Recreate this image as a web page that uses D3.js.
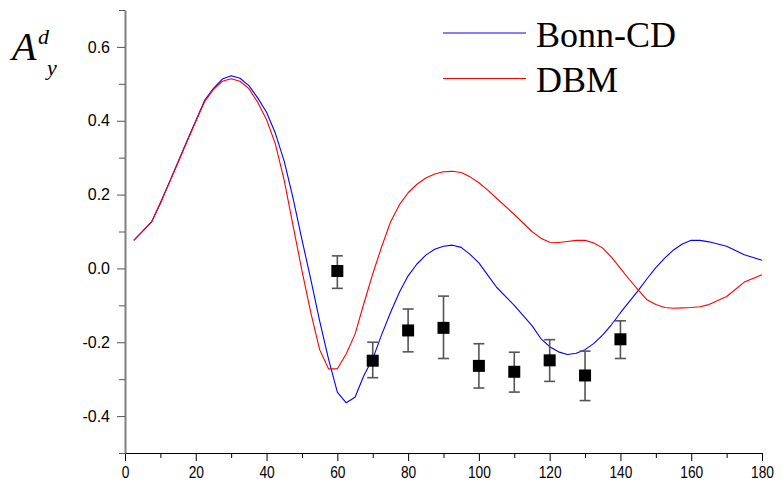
<!DOCTYPE html>
<html>
<head>
<meta charset="utf-8">
<script src="https://cdn.jsdelivr.net/npm/d3@7"></script>
<style>
  body { margin: 0; background: #fff; }
  svg { display: block; }
  .tick text { font-family: "Liberation Sans", Arial, sans-serif; font-size: 16px; fill: #000; }
</style>
</head>
<body>
<div id="chart"></div>
<script>
// theta (deg) grid shared by the two model curves
const angles = [2.5, 7.5, 10, 12.5, 15, 17.5, 20, 22.5, 25, 27.5, 30, 32.5, 35, 37.5, 40, 42.5, 45, 47.5, 50,
  52.5, 55, 57.5, 60, 62.5, 65, 67.5, 70, 72.5, 75, 77.5, 80, 82.5, 85, 87.5, 90, 92.5, 95, 97.5, 100, 102.5,
  105, 110, 115, 117.5, 120, 122.5, 125, 127.5, 130, 132.5, 135, 137.5, 140, 142.5, 145, 147.5, 150, 152.5,
  155, 157.5, 160, 162.5, 165, 170, 175, 180];
const bonnCD = [0.076, 0.126, 0.178, 0.233, 0.289, 0.345, 0.400, 0.455, 0.488, 0.513, 0.522, 0.515, 0.495, 0.462,
  0.423, 0.366, 0.290, 0.190, 0.078, -0.030, -0.142, -0.245, -0.335, -0.364, -0.349, -0.290, -0.245, -0.180,
  -0.120, -0.065, -0.020, 0.012, 0.036, 0.052, 0.060, 0.063, 0.057, 0.038, 0.015, -0.018, -0.051, -0.100,
  -0.155, -0.190, -0.212, -0.226, -0.233, -0.230, -0.220, -0.203, -0.180, -0.152, -0.120, -0.090, -0.060,
  -0.028, 0.002, 0.028, 0.050, 0.066, 0.076, 0.076, 0.072, 0.060, 0.037, 0.022];
const dbm = [0.076, 0.126, 0.176, 0.231, 0.287, 0.343, 0.398, 0.452, 0.485, 0.507, 0.514, 0.507, 0.487, 0.450,
  0.403, 0.337, 0.238, 0.115, -0.006, -0.120, -0.220, -0.272, -0.272, -0.232, -0.178, -0.095, -0.015, 0.058,
  0.125, 0.172, 0.205, 0.228, 0.245, 0.256, 0.262, 0.263, 0.260, 0.248, 0.232, 0.212, 0.190, 0.146, 0.100,
  0.082, 0.071, 0.070, 0.073, 0.076, 0.076, 0.069, 0.055, 0.030, 0.000, -0.030, -0.058, -0.085, -0.098,
  -0.106, -0.108, -0.107, -0.106, -0.104, -0.098, -0.076, -0.037, -0.017];

// experimental points
const expAngles = [60, 70, 80, 90, 100, 110, 120, 130, 140];
const expValues = [-0.007, -0.250, -0.168, -0.161, -0.264, -0.280, -0.249, -0.290, -0.192];
const expHigh = [0.034, -0.200, -0.110, -0.075, -0.204, -0.227, -0.193, -0.224, -0.142];
const expLow = [-0.054, -0.296, -0.226, -0.244, -0.324, -0.335, -0.306, -0.358, -0.244];

const xMajor = [0, 20, 40, 60, 80, 100, 120, 140, 160, 180];
const xMinor = [10, 30, 50, 70, 90, 110, 130, 150, 170];
const yMajor = [-0.4, -0.2, 0.0, 0.2, 0.4, 0.6];
const yMinor = [-0.5, -0.3, -0.1, 0.1, 0.3, 0.5, 0.7];

const seriesNames = ["Bonn-CD", "DBM"];
const seriesColors = ["#0000ff", "#ff0000"];

const W = 782, H = 491;
const margin = {top: 10, right: 20, bottom: 38, left: 125};

const svg = d3.select("#chart").append("svg")
  .attr("width", W).attr("height", H);

const x = d3.scaleLinear().domain([0, 180]).range([margin.left, W - margin.right]);
const y = d3.scaleLinear().domain([-0.5, 0.7]).range([H - margin.bottom, margin.top]);

// x axis
const xAxis = svg.append("g").attr("transform", `translate(0,${H - margin.bottom})`)
  .call(d3.axisBottom(x).tickValues(xMajor).tickSize(8).tickSizeOuter(0).tickPadding(6).tickFormat(d3.format("d")));
xAxis.select(".domain").attr("stroke", "#000");
// labels are a bit condensed in the original
xAxis.selectAll(".tick text").attr("transform", "scale(0.86,1)");
svg.append("g").attr("transform", `translate(0,${H - margin.bottom})`)
  .call(d3.axisBottom(x).tickValues(xMinor).tickSize(5).tickFormat(""))
  .select(".domain").remove();

// y axis
const yAxis = svg.append("g").attr("transform", `translate(${margin.left},0)`)
  .call(d3.axisLeft(y).tickValues(yMajor).tickSize(8).tickSizeOuter(0).tickPadding(7).tickFormat(d => d.toFixed(1)));
yAxis.select(".domain").attr("stroke", "#808080").attr("stroke-width", 2);
yAxis.selectAll(".tick line").attr("stroke", "#555");
svg.append("g").attr("transform", `translate(${margin.left},0)`)
  .call(d3.axisLeft(y).tickValues(yMinor).tickSize(6).tickFormat(""))
  .call(g => g.select(".domain").remove())
  .selectAll(".tick line").attr("stroke", "#555");

// model curves
const line = d3.line().x(d => x(d[0])).y(d => y(d[1]));
[bonnCD, dbm].forEach((vals, i) => {
  svg.append("path")
    .datum(angles.map((a, j) => [a, vals[j]]))
    .attr("fill", "none")
    .attr("stroke", seriesColors[i])
    .attr("stroke-width", 1.1)
    .attr("stroke-linejoin", "round")
    .attr("d", line);
});

// error bars + squares
const pts = expAngles.map((a, i) => ({a, v: expValues[i], hi: expHigh[i], lo: expLow[i]}));
const eb = svg.append("g").attr("stroke", "#555").attr("stroke-width", 1.6);
eb.selectAll(".vbar").data(pts).join("line")
  .attr("x1", d => x(d.a)).attr("x2", d => x(d.a))
  .attr("y1", d => y(d.hi)).attr("y2", d => y(d.lo));
eb.selectAll(".capT").data(pts).join("line")
  .attr("x1", d => x(d.a) - 5.5).attr("x2", d => x(d.a) + 5.5)
  .attr("y1", d => y(d.hi)).attr("y2", d => y(d.hi));
eb.selectAll(".capB").data(pts).join("line")
  .attr("x1", d => x(d.a) - 5.5).attr("x2", d => x(d.a) + 5.5)
  .attr("y1", d => y(d.lo)).attr("y2", d => y(d.lo));
svg.append("g").selectAll("rect").data(pts).join("rect")
  .attr("x", d => x(d.a) - 6).attr("y", d => y(d.v) - 6)
  .attr("width", 12).attr("height", 12)
  .attr("fill", "#000");

// legend
const legend = svg.append("g");
seriesNames.forEach((name, i) => {
  const ly = 33 + i * 45.5;
  legend.append("line")
    .attr("x1", 443).attr("x2", 526).attr("y1", ly).attr("y2", ly)
    .attr("stroke", seriesColors[i]).attr("stroke-width", 1.1);
  legend.append("text")
    .attr("x", 536).attr("y", ly + 13.5)
    .attr("font-family", "'Liberation Serif', 'Times New Roman', serif")
    .attr("font-size", 36)
    .text(name);
});

// y label A_y^d
const ylab = svg.append("text")
  .attr("font-family", "'Liberation Serif', 'Times New Roman', serif")
  .attr("font-style", "italic");
ylab.append("tspan").attr("x", 12).attr("y", 60).attr("font-size", 40).text("A");
ylab.append("tspan").attr("x", 38).attr("y", 44).attr("font-size", 22).text("d");
ylab.append("tspan").attr("x", 47).attr("y", 75).attr("font-size", 22).text("y");
</script>
</body>
</html>
